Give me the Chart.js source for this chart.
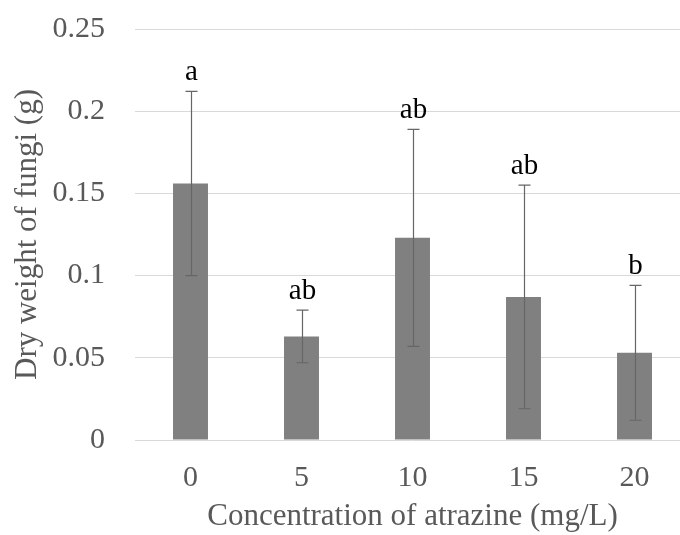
<!DOCTYPE html>
<html>
<head>
<meta charset="utf-8">
<script src="https://cdn.jsdelivr.net/npm/chart.js@4"></script>
<style>
    html, body { margin: 0; padding: 0; background: #ffffff; overflow: hidden; width: 680px; height: 535px; }
    #wrap { width: 690px; height: 535px; }
</style>
</head>
<body>
<div id="wrap"><canvas id="c" width="690" height="535"></canvas></div>
<script>
// 濃度ごとの菌体乾燥重量（平均値 ± SD）
const concentrations = ['0', '5', '10', '15', '20'];
const dryWeight = [0.156, 0.063, 0.123, 0.087, 0.053];
const stdDev = [0.056, 0.016, 0.066, 0.068, 0.041];
const groupLetters = ['a', 'ab', 'ab', 'ab', 'b'];

const serif = '"Times New Roman", "Liberation Serif", serif';
const axisGray = '#595959';

// エラーバーと有意差の文字を描画するプラグイン
const errorBarPlugin = {
    id: 'errorBars',
    afterDatasetsDraw(chart) {
        const ctx = chart.ctx;
        const y = chart.scales.y;
        const meta = chart.getDatasetMeta(0);
        ctx.save();
        meta.data.forEach((bar, i) => {
            const hi = y.getPixelForValue(dryWeight[i] + stdDev[i]);
            const lo = y.getPixelForValue(dryWeight[i] - stdDev[i]);
            const x = Math.round(bar.x) + 0.5;
            ctx.strokeStyle = '#666666';
            ctx.lineWidth = 1.2;
            ctx.beginPath();
            ctx.moveTo(x, hi);
            ctx.lineTo(x, lo);
            ctx.moveTo(x - 6, hi);
            ctx.lineTo(x + 6, hi);
            ctx.moveTo(x - 6, lo);
            ctx.lineTo(x + 6, lo);
            ctx.stroke();

            ctx.fillStyle = '#000000';
            ctx.font = '29px ' + serif;
            ctx.textAlign = 'center';
            ctx.textBaseline = 'alphabetic';
            ctx.fillText(groupLetters[i], x, hi - 11);
        });
        ctx.restore();
    },
};

new Chart(document.getElementById('c'), {
    type: 'bar',
    data: {
        labels: concentrations,
        datasets: [
            {
                data: dryWeight,
                backgroundColor: '#808080',
                borderWidth: 0,
                barPercentage: 0.315,
                categoryPercentage: 1.0,
            },
        ],
    },
    options: {
        responsive: false,
        animation: false,
        layout: { padding: { top: 29, right: 0, bottom: 0, left: 0 } },
        plugins: {
            legend: { display: false },
            tooltip: { enabled: false },
        },
        scales: {
            x: {
                grid: { display: false },
                border: { display: false },
                ticks: {
                    color: axisGray,
                    font: { family: serif, size: 30 },
                    padding: 12,
                },
                title: {
                    display: true,
                    text: 'Concentration of atrazine (mg/L)',
                    color: axisGray,
                    font: { family: serif, size: 31 },
                    padding: { top: 0, bottom: 0 },
                },
                afterFit(scale) {
                    scale.height = 95;
                },
            },
            y: {
                min: 0,
                max: 0.25,
                grid: { color: '#d9d9d9', lineWidth: 1, drawTicks: false },
                border: { display: false },
                ticks: {
                    stepSize: 0.05,
                    color: axisGray,
                    font: { family: serif, size: 30 },
                    padding: 30,
                    callback: (v) => String(parseFloat(v.toFixed(2))),
                },
                title: {
                    display: true,
                    text: 'Dry weight of fungi (g)',
                    color: axisGray,
                    font: { family: serif, size: 31 },
                    padding: { top: 9, bottom: 0 },
                },
                afterFit(scale) {
                    scale.width = 135;
                    scale.paddingTop = 0;
                    scale.paddingBottom = 0;
                },
            },
        },
    },
    plugins: [errorBarPlugin],
});
</script>
</body>
</html>
